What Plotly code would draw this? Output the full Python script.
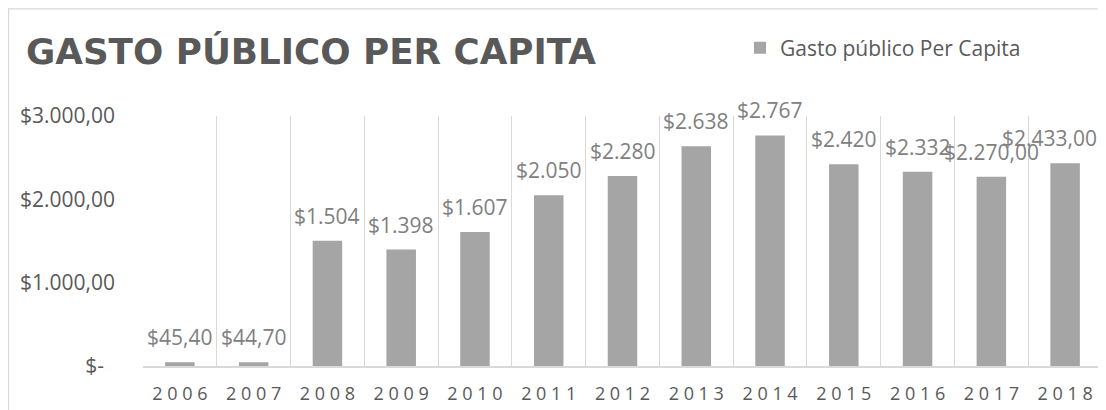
import plotly.graph_objects as go

years = ["2006", "2007", "2008", "2009", "2010", "2011", "2012",
         "2013", "2014", "2015", "2016", "2017", "2018"]
values = [45.40, 44.70, 1504, 1398, 1607, 2050, 2280,
          2638, 2767, 2420, 2332, 2270.00, 2433.00]
labels = ["$45,40", "$44,70", "$1.504", "$1.398", "$1.607", "$2.050", "$2.280",
          "$2.638", "$2.767", "$2.420", "$2.332", "$2.270,00", "$2.433,00"]
y_tickvals = [0, 1000, 2000, 3000]
y_ticktext = ["$-\u00a0\u00a0", "$1.000,00", "$2.000,00", "$3.000,00"]
series_name = "Gasto público Per Capita"
title_text = "GASTO PÚBLICO PER CAPITA"

BAR = "#a5a5a5"
DARK = "#595959"
LABEL = "#808080"
GRID = "#d9d9d9"
FONT = "Open Sans"

# the page body adds an 8px margin, so the figure is 8px smaller
W, H = 1098, 402

# spaced tick text imitating the wide character spacing
x_ticktext = [" ".join(y) for y in years]

fig = go.Figure()
fig.add_trace(go.Bar(
    x=years, y=values, name=series_name,
    marker=dict(color=BAR, line=dict(width=0)),
    showlegend=True,
))

label_xshift = {"2018": -16}
for i, (yr, v, t) in enumerate(zip(years, values, labels)):
    # category axes place annotations by category index
    fig.add_annotation(
        x=i, y=v, text=t, showarrow=False,
        yshift=25, xshift=label_xshift.get(yr, 0),
        font=dict(family=FONT, size=21, color=LABEL),
    )

L, R, T, B = 135, 4, 108, 43.5
pw, ph = W - L - R, H - T - B
# outer chart border (left/top at the figure edge, right at the plot edge)
fig.add_shape(type="rect", xref="paper", yref="paper",
              x0=(0.6 - L) / pw, x1=1.0, y0=-(B + 20) / ph, y1=(ph + T - 0.6) / ph,
              line=dict(color=GRID, width=1.2), fillcolor="rgba(0,0,0,0)")

fig.update_layout(
    width=W, height=H,
    margin=dict(l=L, r=R, t=T, b=B),
    paper_bgcolor="white", plot_bgcolor="white",
    bargap=0.6,
    font=dict(family=FONT, color=DARK),
    title=dict(text=title_text, x=18 / W, xanchor="left", xref="container",
               y=1 - 44 / H, yanchor="middle", yref="container",
               font=dict(family="DejaVu Sans", size=35.7, color=DARK, weight="bold")),
    legend=dict(orientation="h", xref="container", yref="container",
                x=732 / W, xanchor="left", y=1 - 40 / H, yanchor="middle",
                font=dict(family=FONT, size=21, color=DARK),
                bgcolor="rgba(0,0,0,0)"),
    xaxis=dict(type="category", tickson="boundaries",
               range=[-0.5, len(years) - 0.5],
               tickvals=years, ticktext=x_ticktext,
               showgrid=True, gridcolor=GRID, gridwidth=1.2,
               showline=True, linecolor=GRID, linewidth=1.5,
               ticks="", tickfont=dict(family=FONT, size=18, color=DARK),
               ticklabelstandoff=11, zeroline=False),
    yaxis=dict(range=[0, 3000], tickvals=y_tickvals, ticktext=y_ticktext,
               showgrid=False, showline=False, zeroline=False, ticks="",
               tickfont=dict(family=FONT, size=21, color=DARK),
               ticklabelstandoff=27),
)

fig.write_html("out.html")
